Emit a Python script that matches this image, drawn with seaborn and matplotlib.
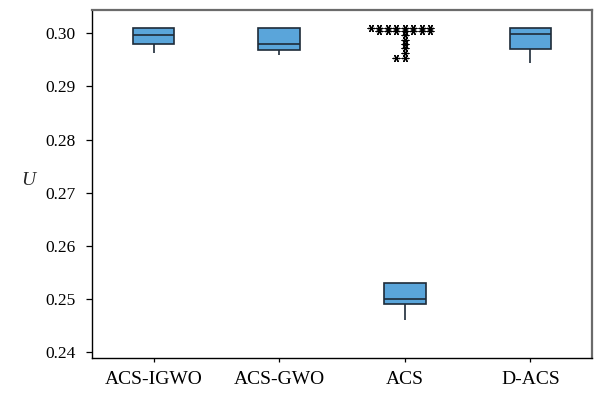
import numpy as np
import pandas as pd
import matplotlib
matplotlib.use("Agg")
import matplotlib.pyplot as plt
import seaborn as sns

# ---- data ----
categories = ["ACS-IGWO", "ACS-GWO", "ACS", "D-ACS"]
mins    = [0.29637, 0.29600, 0.24600, 0.29436]
q1s     = [0.29800, 0.29693, 0.24902, 0.29699]
medians = [0.29975, 0.29806, 0.24994, 0.29993]
q3s     = [0.30090, 0.30090, 0.25294, 0.30105]
maxs    = [0.30090, 0.30090, 0.25294, 0.30105]

# ACS outliers (asterisks)
acs_outliers_top = [0.30090] * 8
acs_outliers_second = [0.30043] * 7
acs_outliers_column = [0.29968, 0.29874, 0.29793, 0.29718, 0.29624]
acs_outliers_bottom = [0.29541] * 2

ytick_values = [0.24, 0.25, 0.26, 0.27, 0.28, 0.29, 0.30]

# ---- build long table ----
rows = []
for c, a, b, m, d, e in zip(categories, mins, q1s, medians, q3s, maxs):
    for v in (a, b, m, d, e):
        rows.append({"alg": c, "U": v})
df = pd.DataFrame(rows)

sns.set_style("white")
plt.rcParams["font.family"] = ["Liberation Serif", "DejaVu Serif"]

fig = plt.figure(figsize=(5.94, 3.93), dpi=100)
ax = fig.add_axes([92 / 594, 1 - 358 / 393, 500 / 594, 348 / 393])

box_fill = "#5aa5da"
edge = "#1e2b38"
sns.boxplot(data=df, x="alg", y="U", order=categories, whis=(0, 100),
            width=0.33, showcaps=False, showfliers=False,
            color=box_fill, saturation=1, linecolor=edge, linewidth=1.2, ax=ax)

ast = (6, 2, 90)
msize = 4.9
mlw = 0.9
for vals in (acs_outliers_top, acs_outliers_second, acs_outliers_bottom):
    d = pd.DataFrame({"alg": "ACS", "U": vals})
    sns.swarmplot(data=d, x="alg", y="U", order=categories, marker=ast,
                  size=msize, color="black", linewidth=mlw, ax=ax, warn_thresh=1)
dcol = pd.DataFrame({"alg": "ACS", "U": acs_outliers_column})
sns.stripplot(data=dcol, x="alg", y="U", order=categories, marker=ast,
              size=msize, jitter=False, color="black", linewidth=mlw, ax=ax)

ax.set_xlim(-0.49, 3.49)
ax.set_ylim(0.23887, 0.30438)
ax.set_yticks(ytick_values)
ax.set_yticklabels([f"{v:.2f}" for v in ytick_values])
ax.set_xlabel("")
ax.set_ylabel("U", rotation=0, fontstyle="italic", fontsize=14)
ax.yaxis.set_label_coords(-0.128, 0.487)

ax.tick_params(axis="y", which="major", left=True, direction="out",
               length=4, width=0.9, pad=8, labelsize=12.5, colors="black")
ax.tick_params(axis="x", which="major", bottom=True, direction="out",
               length=3, width=0.9, pad=6, labelsize=14, colors="black")

for s in ("left", "bottom"):
    ax.spines[s].set_color("black")
    ax.spines[s].set_linewidth(1.0)
for s in ("top", "right"):
    ax.spines[s].set_color("#6b6b6b")
    ax.spines[s].set_linewidth(1.6)

fig.savefig("out.png", dpi=100)
